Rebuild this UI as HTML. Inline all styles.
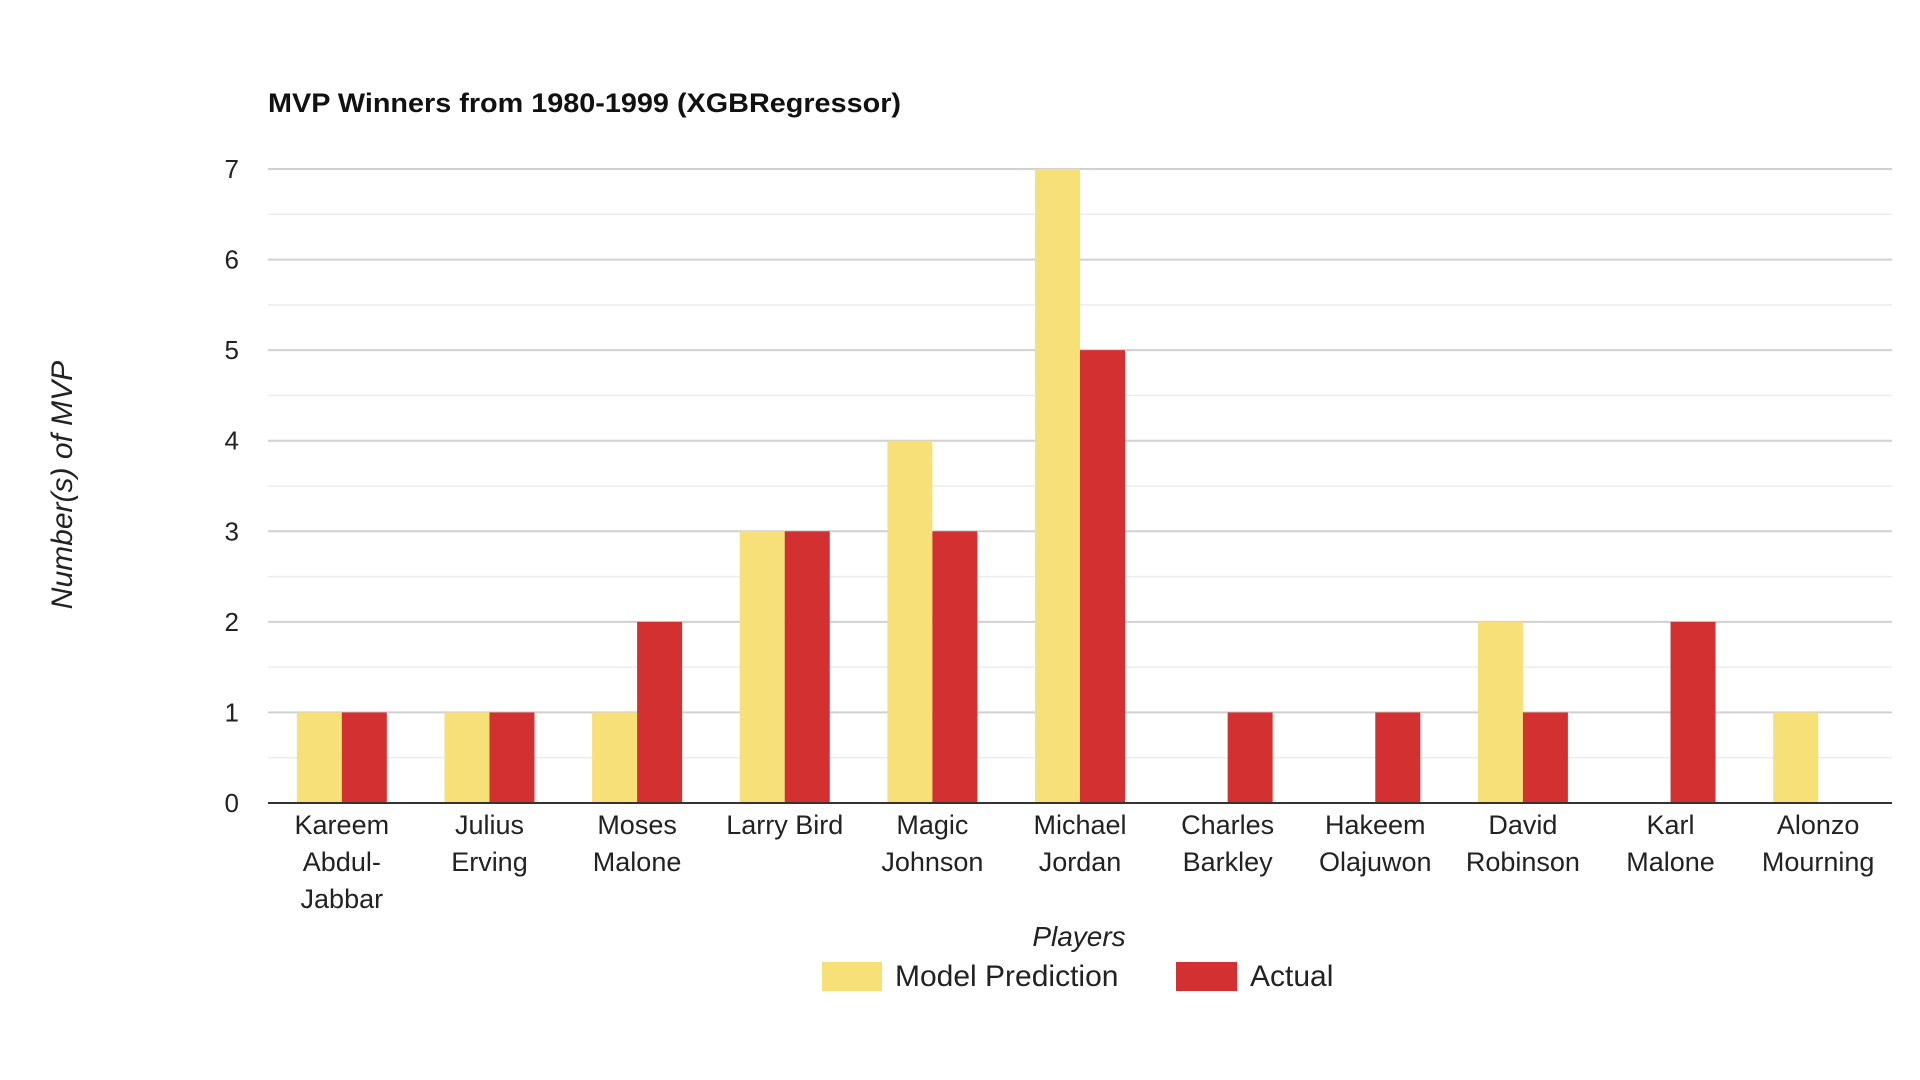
<!DOCTYPE html>
<html><head><meta charset="utf-8"><style>
html,body{margin:0;padding:0;background:#fff;}
svg{display:block;font-family:"Liberation Sans",Arial,sans-serif;}
</style></head><body>
<svg id="chart" width="1920" height="1080" viewBox="0 0 1920 1080">
<text x="268" y="112" font-size="27" font-weight="bold" fill="#111" textLength="633" lengthAdjust="spacingAndGlyphs">MVP Winners from 1980-1999 (XGBRegressor)</text>
<g id="grid"></g>
<g id="yticks"></g>
<g id="bars"></g>
<line x1="268" y1="803" x2="1892" y2="803" stroke="#333" stroke-width="2"/>
<g id="xlabels"></g>
<text transform="translate(72,485) rotate(-90)" text-anchor="middle" font-size="30" font-style="italic" fill="#222">Number(s) of MVP</text>
<text x="1079" y="946" text-anchor="middle" font-size="28" font-style="italic" fill="#222">Players</text>
<g>
<rect x="822" y="962" width="60" height="29" fill="#f8e079"/>
<text x="895" y="986" font-size="30" fill="#222">Model Prediction</text>
<rect x="1176" y="962" width="61" height="29" fill="#d33131"/>
<text x="1250" y="986" font-size="30" fill="#222">Actual</text>
</g>
</svg>
<script>
const categories = [["Kareem","Abdul-","Jabbar"],["Julius","Erving"],["Moses","Malone"],["Larry Bird"],["Magic","Johnson"],["Michael","Jordan"],["Charles","Barkley"],["Hakeem","Olajuwon"],["David","Robinson"],["Karl","Malone"],["Alonzo","Mourning"]];
const modelPrediction = [1,1,1,3,4,7,0,0,2,0,1];
const actual = [1,1,2,3,3,5,1,1,1,2,0];
const yTicks = [0,1,2,3,4,5,6,7];

const NS="http://www.w3.org/2000/svg";
const leftX=268,rightX=1892,baseY=803,topY=169,yMax=7;
const yScale=v=>baseY-(v/yMax)*(baseY-topY);
const band=(rightX-leftX)/categories.length;
const xc=i=>leftX+band*(i+0.5);
const barW=45;
function mk(tag,attrs,parent){const e=document.createElementNS(NS,tag);for(const k in attrs)e.setAttribute(k,attrs[k]);parent.appendChild(e);return e;}
const grid=document.getElementById('grid'),yt=document.getElementById('yticks'),bars=document.getElementById('bars'),xl=document.getElementById('xlabels');
for(let v=0.5;v<=yMax;v+=0.5){
  const major=Number.isInteger(v);
  const l=mk('line',{x1:leftX,x2:rightX,y1:yScale(v),y2:yScale(v),stroke:major?'#d0d0d0':'#ececec','stroke-width':major?2:1.5},grid);
  
  
}
yTicks.forEach(v=>{
  const t=mk('text',{x:239,y:yScale(v)+9,'text-anchor':'end','font-size':26,fill:'#222'},yt);
  t.textContent=v;
  
  
});
categories.forEach((c,i)=>{
  const cx=xc(i);
  const hm=baseY-yScale(modelPrediction[i]);
  const r1=mk('rect',{x:cx-barW,y:yScale(modelPrediction[i]),width:barW,height:Math.max(hm,0),fill:'#f8e079'},bars);
  
  
  const ha=baseY-yScale(actual[i]);
  const r2=mk('rect',{x:cx,y:yScale(actual[i]),width:barW,height:Math.max(ha,0),fill:'#d33131'},bars);
  
  
  const t=mk('text',{x:cx,'text-anchor':'middle','font-size':27,fill:'#222'},xl);
  
  
  c.forEach((line,j)=>{const s=mk('tspan',{x:cx,y:834+j*37},t);s.textContent=line;});
});
</script>
</body></html>
